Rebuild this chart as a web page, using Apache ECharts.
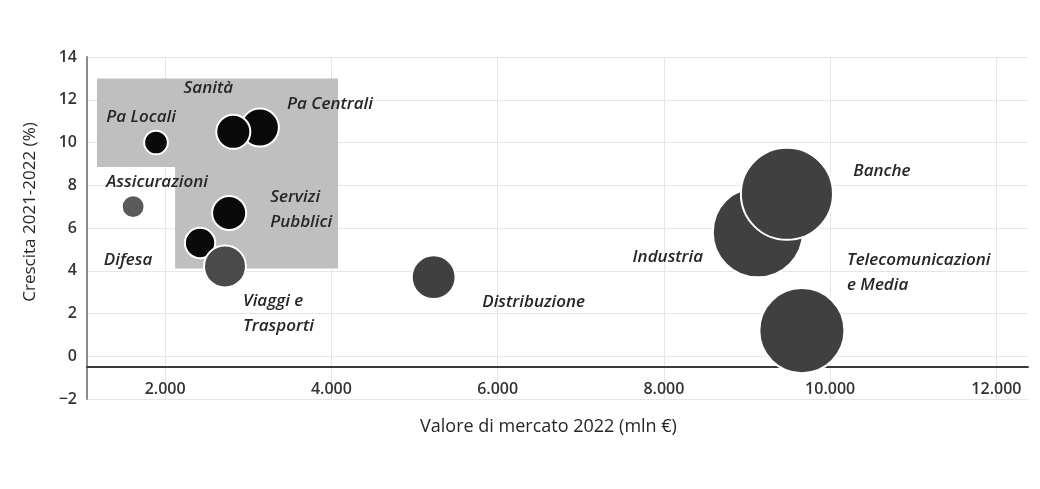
<!DOCTYPE html>
<html>
<head>
<meta charset="utf-8">
<script src="https://cdn.jsdelivr.net/npm/echarts@6/dist/echarts.min.js"></script>
<style>
html,body{margin:0;padding:0;background:#fff;}
#chart{width:1040px;height:489px;}
</style>
</head>
<body>
<div id="chart"></div>
<script>
// ---- data ----
const categories = ['Pa Locali', 'Pa Centrali', 'Sanità', 'Assicurazioni', 'Servizi\nPubblici', 'Difesa',
  'Viaggi e\nTrasporti', 'Distribuzione', 'Industria', 'Banche', 'Telecomunicazioni\ne Media'];
const marketValue = [1890, 3140, 2820, 1615, 2770, 2420, 2720, 5230, 9130, 9480, 9660]; // mln €
const growth = [10.0, 10.7, 10.5, 7.0, 6.7, 5.3, 4.2, 3.7, 5.8, 7.6, 1.2];               // %
const bubbleSize = [1.4, 3.6, 2.9, 1.3, 2.9, 2.3, 4.4, 4.8, 20.3, 21.2, 18.1];          // relative
const xTicks = [2000, 4000, 6000, 8000, 10000, 12000];
const yTicks = [-2, 0, 2, 4, 6, 8, 10, 12, 14];
// highlighted area (two rectangles): [xFrom, yFrom, xTo, yTo]
const highlightAreas = [
  [1180, 8.85, 4080, 13.0],
  [2120, 4.1, 4080, 8.85]
];

// ---- styles ----
const bubbleColors = ['#0a0a0a', '#0a0a0a', '#0a0a0a', '#5a5a5a', '#0a0a0a', '#0a0a0a',
  '#4a4a4a', '#404040', '#404040', '#404040', '#404040'];
const labelOffsets = [[-15, -25], [70, -23], [-25, -44], [24, -24], [41, -3], [-72, 17],
  [18, 47], [100, 25], [-90, 25], [95, -23], [45, -58]];
const labelAlign = ['center', 'center', 'center', 'center', 'left', 'center',
  'left', 'center', 'center', 'center', 'left'];

function fmtThousands(v) {
  return String(v).replace(/\B(?=(\d{3})+(?!\d))/g, '.');
}

const seriesData = categories.map((c, i) => ({
  name: c,
  value: [marketValue[i], growth[i], bubbleSize[i]],
  itemStyle: { color: bubbleColors[i] }
}));

const chart = echarts.init(document.getElementById('chart'), null, { renderer: 'canvas' });
chart.setOption({
  backgroundColor: '#ffffff',
  animation: false,
  grid: { left: 87, right: 12, top: 57, bottom: 90 },
  xAxis: {
    type: 'value',
    min: 1060,
    max: 12380,
    minInterval: 2000,
    maxInterval: 2000,
    offset: -32,
    axisLine: { show: true, onZero: false, lineStyle: { color: '#3a3a3a', width: 2 } },
    axisTick: { show: false },
    axisLabel: {
      margin: 14,
      fontFamily: 'Open Sans',
      fontSize: 16,
      fontWeight: 600,
      color: '#333',
      formatter: v => (xTicks.indexOf(v) >= 0 ? fmtThousands(v) : '')
    },
    splitLine: { show: true, showMinLine: false, showMaxLine: false, lineStyle: { color: '#e6e6e6', width: 1 } },
    name: 'Valore di mercato 2022 (mln €)',
    nameLocation: 'middle',
    nameGap: 51,
    nameTextStyle: { fontFamily: 'Open Sans', fontSize: 18, color: '#262626', padding: [0, 18, 0, 0] }
  },
  yAxis: {
    type: 'value',
    min: yTicks[0],
    max: yTicks[yTicks.length - 1],
    interval: 2,
    axisLine: { show: true, lineStyle: { color: '#8c8c8c', width: 2 } },
    axisTick: { show: false },
    axisLabel: {
      margin: 10,
      fontFamily: 'Open Sans',
      fontSize: 16,
      fontWeight: 600,
      color: '#333',
      formatter: v => (v < 0 ? '\u2212' + Math.abs(v) : String(v))
    },
    splitLine: { show: true, lineStyle: { color: '#e6e6e6', width: 1 } },
    name: 'Crescita 2021-2022 (%)',
    nameLocation: 'middle',
    nameGap: 48,
    nameTextStyle: { fontFamily: 'Open Sans', fontSize: 17, color: '#262626', padding: [0, 0, 0, 32] }
  },
  series: [{
    type: 'scatter',
    data: seriesData,
    symbolSize: d => 20 * Math.sqrt(d[2]),
    itemStyle: { borderColor: '#ffffff', borderWidth: 2, opacity: 1 },
    label: {
      show: true,
      position: 'inside',
      formatter: p => p.name,
      fontFamily: 'Open Sans',
      fontStyle: 'italic',
      fontWeight: 600,
      fontSize: 17,
      lineHeight: 25,
      color: '#262626'
    },
    labelLayout: p => ({ dx: labelOffsets[p.dataIndex][0], dy: labelOffsets[p.dataIndex][1], align: labelAlign[p.dataIndex], hideOverlap: false }),
    emphasis: { disabled: true },
    markArea: {
      silent: true,
      itemStyle: { color: '#bfbfbf', opacity: 1 },
      data: highlightAreas.map(a => [{ coord: [a[0], a[1]] }, { coord: [a[2], a[3]] }])
    },
    z: 3
  }]
});
</script>
</body>
</html>
